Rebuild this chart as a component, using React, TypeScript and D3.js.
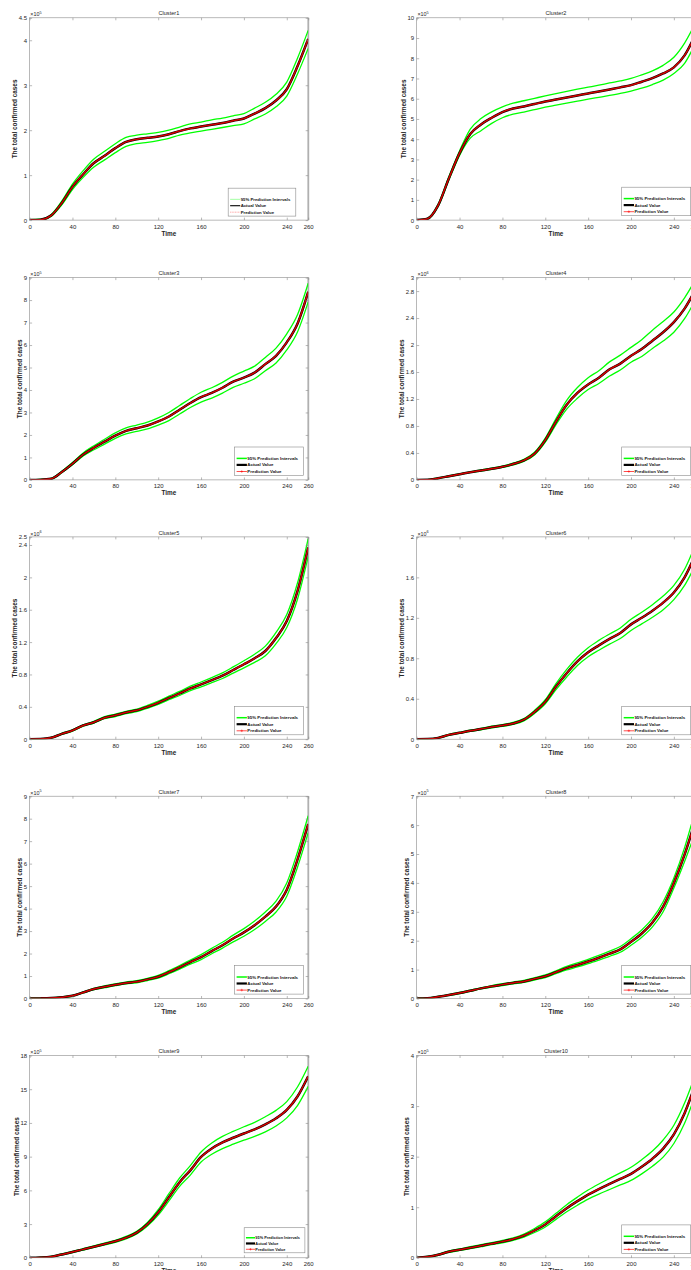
import React, { useRef, useEffect } from 'react';
import * as d3 from 'd3';

// Time axis (days) and tick labels
const days = [0, 10, 20, 30, 40, 50, 60, 70, 80, 90, 100, 110, 120, 130, 140, 150, 160, 170, 180, 190, 200, 210, 220, 230, 240, 250, 260];
const xTicks = [0, 40, 80, 120, 160, 200, 240, 260];

// Cluster1 (x10^5)
const c1Actual = [0, 0.01, 0.1, 0.38, 0.74, 1.02, 1.27, 1.43, 1.6, 1.74, 1.8, 1.83, 1.86, 1.91, 1.98, 2.04, 2.08, 2.12, 2.16, 2.21, 2.26, 2.37, 2.49, 2.66, 2.91, 3.42, 4.03];
const c1Upper = [0.01, 0.02, 0.12, 0.42, 0.8, 1.1, 1.36, 1.53, 1.7, 1.84, 1.89, 1.92, 1.95, 2.0, 2.07, 2.14, 2.18, 2.23, 2.27, 2.32, 2.37, 2.49, 2.62, 2.8, 3.07, 3.6, 4.22];
const c1Lower = [0, 0, 0.08, 0.34, 0.68, 0.95, 1.18, 1.34, 1.5, 1.64, 1.7, 1.73, 1.77, 1.82, 1.89, 1.94, 1.98, 2.02, 2.06, 2.1, 2.14, 2.25, 2.36, 2.52, 2.76, 3.25, 3.82];

// Cluster2 (x10^5)
const c2Actual = [0, 0.07, 0.73, 2.06, 3.31, 4.26, 4.73, 5.06, 5.34, 5.52, 5.62, 5.74, 5.86, 5.96, 6.06, 6.16, 6.26, 6.36, 6.46, 6.56, 6.67, 6.84, 7.02, 7.25, 7.55, 8.14, 9.15];
const c2Upper = [0.01, 0.09, 0.78, 2.14, 3.42, 4.5, 5.02, 5.35, 5.6, 5.78, 5.9, 6.02, 6.14, 6.25, 6.36, 6.47, 6.57, 6.67, 6.78, 6.88, 7.0, 7.18, 7.38, 7.65, 8.05, 8.75, 9.72];
const c2Lower = [0, 0.05, 0.68, 1.98, 3.2, 4.05, 4.42, 4.78, 5.06, 5.24, 5.34, 5.46, 5.58, 5.68, 5.78, 5.88, 5.98, 6.07, 6.16, 6.26, 6.38, 6.52, 6.7, 6.92, 7.25, 7.75, 8.72];

// Cluster3 (x10^5)
const c3Actual = [0, 0.01, 0.05, 0.35, 0.72, 1.13, 1.43, 1.7, 1.97, 2.18, 2.3, 2.42, 2.6, 2.82, 3.12, 3.42, 3.68, 3.87, 4.1, 4.37, 4.55, 4.77, 5.15, 5.52, 6.12, 6.95, 8.37];
const c3Upper = [0.01, 0.02, 0.07, 0.38, 0.77, 1.2, 1.52, 1.81, 2.09, 2.31, 2.44, 2.57, 2.76, 3.0, 3.31, 3.62, 3.9, 4.1, 4.34, 4.62, 4.84, 5.06, 5.45, 5.86, 6.5, 7.35, 8.75];
const c3Lower = [0, 0, 0.03, 0.32, 0.67, 1.06, 1.34, 1.59, 1.85, 2.05, 2.16, 2.27, 2.44, 2.64, 2.93, 3.22, 3.46, 3.64, 3.86, 4.12, 4.3, 4.5, 4.86, 5.2, 5.78, 6.58, 7.92];

// Cluster4 (x10^6)
const c4Actual = [0, 0.003, 0.025, 0.055, 0.085, 0.115, 0.14, 0.165, 0.195, 0.235, 0.29, 0.39, 0.59, 0.865, 1.115, 1.29, 1.415, 1.515, 1.64, 1.725, 1.84, 1.94, 2.065, 2.19, 2.34, 2.54, 2.815];
const c4Upper = [0.002, 0.005, 0.03, 0.06, 0.09, 0.12, 0.148, 0.175, 0.205, 0.248, 0.305, 0.41, 0.62, 0.91, 1.18, 1.37, 1.515, 1.62, 1.75, 1.85, 1.965, 2.08, 2.22, 2.35, 2.49, 2.7, 2.965];
const c4Lower = [0, 0.001, 0.02, 0.05, 0.08, 0.11, 0.132, 0.155, 0.185, 0.222, 0.275, 0.37, 0.56, 0.82, 1.05, 1.21, 1.34, 1.43, 1.54, 1.63, 1.745, 1.83, 1.95, 2.06, 2.19, 2.39, 2.665];

// Cluster5 (x10^6)
const c5Actual = [0, 0.002, 0.017, 0.066, 0.108, 0.17, 0.21, 0.266, 0.295, 0.33, 0.357, 0.4, 0.45, 0.51, 0.565, 0.627, 0.677, 0.73, 0.785, 0.855, 0.926, 1.0, 1.09, 1.25, 1.46, 1.83, 2.37];
const c5Upper = [0.002, 0.004, 0.022, 0.072, 0.115, 0.178, 0.22, 0.278, 0.31, 0.345, 0.373, 0.418, 0.47, 0.532, 0.59, 0.655, 0.707, 0.762, 0.82, 0.893, 0.97, 1.05, 1.15, 1.32, 1.54, 1.93, 2.48];
const c5Lower = [0, 0, 0.012, 0.06, 0.1, 0.162, 0.2, 0.254, 0.28, 0.315, 0.341, 0.382, 0.43, 0.488, 0.54, 0.6, 0.647, 0.698, 0.75, 0.817, 0.882, 0.95, 1.03, 1.18, 1.38, 1.73, 2.26];

// Cluster6 (x10^6)
const c6Actual = [0, 0.002, 0.013, 0.043, 0.063, 0.083, 0.1, 0.12, 0.136, 0.156, 0.193, 0.27, 0.37, 0.52, 0.652, 0.769, 0.859, 0.928, 0.992, 1.05, 1.135, 1.2, 1.27, 1.35, 1.45, 1.6, 1.82];
const c6Upper = [0.001, 0.003, 0.016, 0.047, 0.068, 0.089, 0.107, 0.128, 0.145, 0.166, 0.205, 0.285, 0.39, 0.55, 0.69, 0.81, 0.905, 0.977, 1.04, 1.1, 1.185, 1.255, 1.33, 1.415, 1.52, 1.68, 1.92];
const c6Lower = [0, 0.001, 0.01, 0.039, 0.058, 0.077, 0.093, 0.112, 0.127, 0.146, 0.181, 0.255, 0.35, 0.49, 0.615, 0.728, 0.815, 0.88, 0.94, 0.995, 1.075, 1.14, 1.205, 1.28, 1.38, 1.52, 1.72];

// Cluster7 (x10^5)
const c7Actual = [0, 0.005, 0.02, 0.06, 0.12, 0.27, 0.42, 0.52, 0.61, 0.69, 0.75, 0.85, 0.97, 1.17, 1.39, 1.62, 1.84, 2.11, 2.37, 2.67, 2.94, 3.26, 3.64, 4.09, 4.84, 6.18, 7.76];
const c7Upper = [0.005, 0.01, 0.03, 0.07, 0.14, 0.29, 0.45, 0.56, 0.65, 0.73, 0.8, 0.9, 1.03, 1.24, 1.47, 1.71, 1.95, 2.23, 2.5, 2.82, 3.11, 3.45, 3.85, 4.33, 5.14, 6.52, 8.13];
const c7Lower = [0, 0, 0.01, 0.05, 0.1, 0.25, 0.39, 0.48, 0.57, 0.65, 0.7, 0.8, 0.91, 1.1, 1.31, 1.53, 1.73, 1.99, 2.24, 2.52, 2.77, 3.07, 3.43, 3.85, 4.55, 5.84, 7.38];

// Cluster8 (x10^5)
const c8Actual = [0, 0.01, 0.06, 0.12, 0.19, 0.27, 0.35, 0.42, 0.48, 0.54, 0.59, 0.68, 0.77, 0.91, 1.05, 1.16, 1.28, 1.41, 1.55, 1.7, 1.96, 2.25, 2.63, 3.18, 4.0, 4.98, 6.15];
const c8Upper = [0.005, 0.015, 0.07, 0.135, 0.21, 0.29, 0.37, 0.445, 0.51, 0.57, 0.625, 0.72, 0.815, 0.96, 1.11, 1.23, 1.355, 1.49, 1.64, 1.8, 2.07, 2.37, 2.77, 3.35, 4.17, 5.22, 6.5];
const c8Lower = [0, 0.005, 0.05, 0.105, 0.17, 0.25, 0.33, 0.395, 0.45, 0.51, 0.555, 0.64, 0.725, 0.86, 0.99, 1.09, 1.205, 1.33, 1.46, 1.6, 1.84, 2.12, 2.48, 3.0, 3.82, 4.74, 5.74];

// Cluster9 (x10^5)
const c9Actual = [0, 0.02, 0.09, 0.3, 0.51, 0.75, 0.99, 1.23, 1.47, 1.79, 2.24, 2.99, 4.04, 5.38, 6.73, 7.78, 8.97, 9.72, 10.26, 10.68, 11.06, 11.42, 11.87, 12.41, 13.16, 14.35, 16.15];
const c9Upper = [0.01, 0.04, 0.12, 0.34, 0.56, 0.81, 1.06, 1.31, 1.56, 1.9, 2.36, 3.15, 4.28, 5.7, 7.1, 8.2, 9.42, 10.22, 10.8, 11.25, 11.66, 12.05, 12.55, 13.12, 13.9, 15.2, 17.05];
const c9Lower = [0, 0, 0.06, 0.26, 0.46, 0.69, 0.92, 1.15, 1.38, 1.68, 2.12, 2.83, 3.8, 5.06, 6.36, 7.36, 8.52, 9.22, 9.72, 10.11, 10.47, 10.8, 11.2, 11.72, 12.45, 13.55, 15.25];

// Cluster10 (x10^5)
const c10Actual = [0, 0.02, 0.06, 0.12, 0.16, 0.2, 0.24, 0.28, 0.32, 0.37, 0.44, 0.54, 0.66, 0.82, 0.98, 1.12, 1.25, 1.36, 1.46, 1.56, 1.66, 1.8, 1.96, 2.16, 2.44, 2.86, 3.42];
const c10Upper = [0.005, 0.03, 0.07, 0.135, 0.175, 0.22, 0.26, 0.3, 0.345, 0.395, 0.47, 0.58, 0.71, 0.88, 1.05, 1.2, 1.34, 1.46, 1.57, 1.68, 1.79, 1.94, 2.11, 2.33, 2.62, 3.06, 3.62];
const c10Lower = [0, 0.01, 0.05, 0.105, 0.145, 0.18, 0.22, 0.26, 0.295, 0.345, 0.41, 0.5, 0.61, 0.76, 0.91, 1.04, 1.16, 1.26, 1.35, 1.44, 1.53, 1.66, 1.81, 1.99, 2.26, 2.66, 3.22];

// y tick labels per panel
const yTicks5a = [0, 1, 2, 3, 4, 4.5];
const yTicks10 = [0, 1, 2, 3, 4, 5, 6, 7, 8, 9, 10];
const yTicks9 = [0, 1, 2, 3, 4, 5, 6, 7, 8, 9];
const yTicks3m = [0, 0.4, 0.8, 1.2, 1.6, 2, 2.4, 2.8, 3];
const yTicks25m = [0, 0.4, 0.8, 1.2, 1.6, 2, 2.4, 2.5];
const yTicks2m = [0, 0.4, 0.8, 1.2, 1.6, 2];
const yTicks7 = [0, 1, 2, 3, 4, 5, 6, 7];
const yTicks18 = [0, 3, 6, 9, 12, 15, 18];
const yTicks4 = [0, 1, 2, 3, 4];

const legendLabels = ['95% Prediction Intervals', 'Actual Value', 'Prediction Value'];

const panels = [
  { title: 'Cluster1', exp: 5, ticks: yTicks5a, actual: c1Actual, upper: c1Upper, lower: c1Lower },
  { title: 'Cluster2', exp: 5, ticks: yTicks10, actual: c2Actual, upper: c2Upper, lower: c2Lower },
  { title: 'Cluster3', exp: 5, ticks: yTicks9, actual: c3Actual, upper: c3Upper, lower: c3Lower },
  { title: 'Cluster4', exp: 6, ticks: yTicks3m, actual: c4Actual, upper: c4Upper, lower: c4Lower },
  { title: 'Cluster5', exp: 6, ticks: yTicks25m, actual: c5Actual, upper: c5Upper, lower: c5Lower },
  { title: 'Cluster6', exp: 6, ticks: yTicks2m, actual: c6Actual, upper: c6Upper, lower: c6Lower },
  { title: 'Cluster7', exp: 5, ticks: yTicks9, actual: c7Actual, upper: c7Upper, lower: c7Lower },
  { title: 'Cluster8', exp: 5, ticks: yTicks7, actual: c8Actual, upper: c8Upper, lower: c8Lower },
  { title: 'Cluster9', exp: 5, ticks: yTicks18, actual: c9Actual, upper: c9Upper, lower: c9Lower },
  { title: 'Cluster10', exp: 5, ticks: yTicks4, actual: c10Actual, upper: c10Upper, lower: c10Lower },
];

// layout
const W = 691;
const H = 1270;
const colLeft = [29.6, 416.7];
const rowTop = [17.8, 277.6, 536.9, 796.2, 1055.5];
const plotW = 278.6;
const plotH = 202.3;
const font = '"Liberation Sans", Arial, Helvetica, sans-serif';
const axisColor = '#8a8a8a';
const textColor = '#262626';

// legend placement: scale, distance from right / bottom, thin sample lines
const legendStyle = (i: number) => {
  if (i === 0) return { s: 0.98, dr: 12.4, db: 4, thin: true };
  if (i === 8) return { s: 0.88, dr: 3.3, db: 5, thin: false };
  return { s: 1, dr: 4.6, db: 4.4, thin: false };
};

const labelWidth = (t: string, fs: number) =>
  t.split('').reduce((w, ch) => w + (ch === '.' ? 0.278 : 0.556), 0) * fs;

const App = () => {
  const svgRef = useRef<SVGSVGElement>(null);

  useEffect(() => {
    const svg = d3.select(svgRef.current);
    svg.selectAll('*').remove();

    panels.forEach((p, i) => {
      const left = colLeft[i % 2];
      const top = rowTop[Math.floor(i / 2)];
      const right = left + plotW;
      const bottom = top + plotH;
      const yMax = p.ticks[p.ticks.length - 1];

      const x = d3.scaleLinear().domain([0, 260]).range([left, right]);
      const y = d3.scaleLinear().domain([0, yMax]).range([bottom, top]);

      const g = svg.append('g');

      const clipId = `clip-${i}`;
      g.append('clipPath').attr('id', clipId)
        .append('rect')
        .attr('x', left).attr('y', top - 2)
        .attr('width', plotW).attr('height', plotH + 2);

      // light strip at the right edge
      g.append('rect')
        .attr('x', right - 1.2).attr('y', top)
        .attr('width', 2.4).attr('height', plotH)
        .attr('fill', '#d6d6d6');

      const line = d3.line<number>()
        .x((_, j) => x(days[j]))
        .y(d => y(d))
        .curve(d3.curveMonotoneX);

      const lines = g.append('g').attr('clip-path', `url(#${clipId})`);
      lines.append('path').attr('d', line(p.upper))
        .attr('fill', 'none').attr('stroke', '#00ff00').attr('stroke-width', 1.3);
      lines.append('path').attr('d', line(p.lower))
        .attr('fill', 'none').attr('stroke', '#00ff00').attr('stroke-width', 1.3);
      lines.append('path').attr('d', line(p.actual))
        .attr('fill', 'none').attr('stroke', '#000').attr('stroke-width', 2.5);
      // prediction follows the actual value within the line width
      lines.append('path').attr('d', line(p.actual))
        .attr('fill', 'none').attr('stroke', '#d40000').attr('stroke-width', 1.5);

      // box
      g.append('rect')
        .attr('x', left).attr('y', top)
        .attr('width', plotW).attr('height', plotH)
        .attr('fill', 'none').attr('stroke', axisColor).attr('stroke-width', 0.6);

      const styleAxis = (a: d3.Selection<SVGGElement, unknown, null, undefined>) => {
        a.select('.domain').remove();
        a.selectAll('line').attr('stroke', axisColor).attr('stroke-width', 0.6);
        a.selectAll('text')
          .attr('fill', textColor)
          .attr('font-size', 6)
          .attr('font-family', font);
        a.attr('font-family', font);
      };

      const xb = g.append('g').attr('transform', `translate(0,${bottom})`)
        .call(d3.axisBottom(x).tickValues(xTicks).tickSizeInner(-2.5).tickSizeOuter(0).tickPadding(4.2).tickFormat(d => String(d)));
      styleAxis(xb);
      const xt = g.append('g').attr('transform', `translate(0,${top})`)
        .call(d3.axisTop(x).tickValues(xTicks).tickSizeInner(-2.5).tickSizeOuter(0).tickFormat(() => ''));
      styleAxis(xt);
      const yl = g.append('g').attr('transform', `translate(${left},0)`)
        .call(d3.axisLeft(y).tickValues(p.ticks).tickSizeInner(-2.5).tickSizeOuter(0).tickPadding(2.5).tickFormat(d => String(d)));
      styleAxis(yl);
      const yr = g.append('g').attr('transform', `translate(${right},0)`)
        .call(d3.axisRight(y).tickValues(p.ticks).tickSizeInner(-2.5).tickSizeOuter(0).tickFormat(() => ''));
      styleAxis(yr);

      // title
      g.append('text')
        .attr('x', (left + right) / 2).attr('y', top - 2.4)
        .attr('text-anchor', 'middle')
        .attr('font-family', font).attr('font-size', 5.6)
        .attr('fill', textColor)
        .text(p.title);

      // exponent
      const ex = g.append('text')
        .attr('x', left + 0.7).attr('y', top - 1.4)
        .attr('font-family', font).attr('font-size', 5.4)
        .attr('fill', textColor)
        .text('×10');
      ex.append('tspan').attr('dy', -2.4).attr('font-size', 3.8).text(String(p.exp));

      // axis labels
      g.append('text')
        .attr('x', (left + right) / 2).attr('y', bottom + 15.4)
        .attr('text-anchor', 'middle')
        .attr('font-family', font).attr('font-size', 6.4).attr('font-weight', 'bold')
        .attr('fill', textColor)
        .text('Time');

      const maxW = d3.max(p.ticks, t => labelWidth(String(t), 6)) ?? 0;
      const lx = left - (maxW + 6.3);
      g.append('text')
        .attr('transform', `translate(${lx},${(top + bottom) / 2}) rotate(-90)`)
        .attr('text-anchor', 'middle').attr('dy', '0.36em')
        .attr('font-family', font).attr('font-size', 6.4).attr('font-weight', 'bold')
        .attr('fill', textColor)
        .text('The total confirmed cases');

      // legend
      const ls = legendStyle(i);
      const lw = 69 * ls.s;
      const lh = 28.5 * ls.s;
      const bx = right - ls.dr - lw;
      const by = bottom - ls.db - lh;
      const lg = g.append('g');
      lg.append('rect')
        .attr('x', bx).attr('y', by).attr('width', lw).attr('height', lh)
        .attr('fill', '#fff').attr('stroke', axisColor).attr('stroke-width', 0.6);
      const rowsY = [11.4, 17.9, 24.5].map(v => by + v * ls.s);
      const x0 = bx + 2 * ls.s;
      const x1 = bx + 12.3 * ls.s;
      lg.append('line').attr('x1', x0).attr('x2', x1).attr('y1', rowsY[0]).attr('y2', rowsY[0])
        .attr('stroke', ls.thin ? '#66ff66' : '#00ff00').attr('stroke-width', ls.thin ? 0.6 : 1.5);
      lg.append('line').attr('x1', x0).attr('x2', x1).attr('y1', rowsY[1]).attr('y2', rowsY[1])
        .attr('stroke', '#000').attr('stroke-width', ls.thin ? 1.1 : 2.2);
      lg.append('line').attr('x1', x0).attr('x2', x1).attr('y1', rowsY[2]).attr('y2', rowsY[2])
        .attr('stroke', ls.thin ? '#ff8080' : '#ff0000').attr('stroke-width', 0.7)
        .attr('stroke-dasharray', ls.thin ? '1,0.6' : null);
      if (!ls.thin) {
        const mx = (x0 + x1) / 2;
        const m = 1.3 * ls.s;
        lg.append('path')
          .attr('d', `M${mx - m},${rowsY[2]}H${mx + m}M${mx},${rowsY[2] - m}V${rowsY[2] + m}`)
          .attr('stroke', '#ff0000').attr('stroke-width', 0.5);
      }
      legendLabels.forEach((t, k) => {
        lg.append('text')
          .attr('x', x1 + 0.4 * ls.s).attr('y', rowsY[k]).attr('dy', '0.35em')
          .attr('font-family', font).attr('font-size', 4.4 * ls.s).attr('font-weight', 'bold')
          .attr('fill', '#111')
          .text(t);
      });
    });
  }, []);

  return (
    <svg
      ref={svgRef}
      width={W}
      height={H}
      style={{ position: 'absolute', left: 0, top: 0, background: '#fff' }}
    />
  );
};

export default App;
